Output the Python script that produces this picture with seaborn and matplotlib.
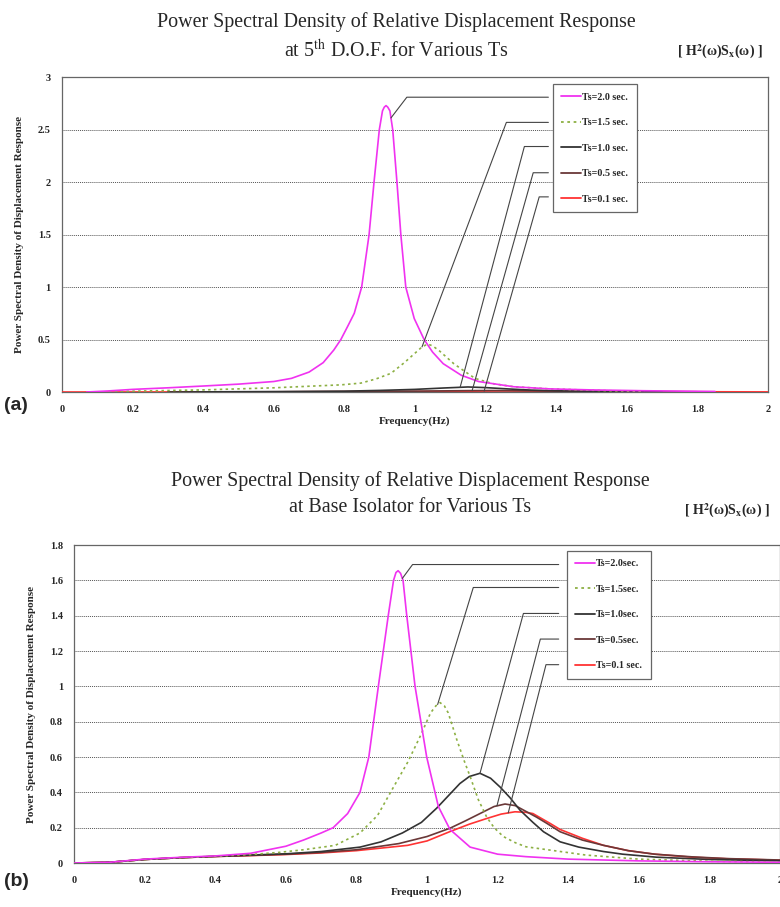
import numpy as np
import pandas as pd
import seaborn as sns
from matplotlib import pyplot as plt
from matplotlib.lines import Line2D

# ---- data ----
labels_a = ["Ts=2.0 sec.", "Ts=1.5 sec.", "Ts=1.0 sec.", "Ts=0.5 sec.", "Ts=0.1 sec."]
labels_b = ["Ts=2.0sec.", "Ts=1.5sec.", "Ts=1.0sec.", "Ts=0.5sec.", "Ts=0.1 sec."]
colors = ["#f032f0", "#8db044", "#333333", "#6a3838", "#ff3333"]

# (a) 5th D.O.F.
a_f20 = [0.07, 0.13, 0.2, 0.3, 0.4, 0.5, 0.6, 0.65, 0.7, 0.74, 0.77, 0.79, 0.81, 0.828, 0.849,
         0.870, 0.884, 0.899, 0.908, 0.913, 0.918, 0.923, 0.929, 0.937, 0.949, 0.960, 0.974,
         0.998, 1.026, 1.05, 1.08, 1.131, 1.18, 1.28, 1.38, 1.5, 1.65, 1.85]
a_v20 = [0.0, 0.01, 0.025, 0.04, 0.057, 0.075, 0.1, 0.13, 0.19, 0.28, 0.4, 0.5, 0.63, 0.75, 1.0,
         1.5, 2.0, 2.5, 2.68, 2.715, 2.73, 2.715, 2.68, 2.5, 2.0, 1.5, 1.0,
         0.7, 0.5, 0.38, 0.27, 0.16, 0.1, 0.05, 0.03, 0.02, 0.012, 0.005]
a_f15 = [0.1, 0.2, 0.3, 0.4, 0.5, 0.6, 0.7, 0.79, 0.847, 0.89, 0.932, 0.97, 1.0, 1.02, 1.036,
         1.05, 1.07, 1.09, 1.11, 1.131, 1.17, 1.22, 1.28, 1.38, 1.47, 1.55, 1.65]
a_v15 = [0.0, 0.008, 0.014, 0.02, 0.03, 0.04, 0.055, 0.068, 0.085, 0.125, 0.178, 0.28, 0.37,
         0.43, 0.457, 0.44, 0.39, 0.33, 0.27, 0.22, 0.13, 0.08, 0.05, 0.03, 0.02, 0.012, 0.006]
a_f10 = [0.3, 0.6, 0.8, 0.9, 1.0, 1.08, 1.15, 1.2, 1.26, 1.33, 1.4, 1.5, 1.6, 1.7]
a_v10 = [0.0, 0.004, 0.008, 0.015, 0.025, 0.038, 0.048, 0.042, 0.03, 0.018, 0.012, 0.007, 0.004, 0.002]
a_f05 = [0.5, 0.8, 1.0, 1.15, 1.22, 1.3, 1.45, 1.6, 1.8]
a_v05 = [0.0, 0.004, 0.008, 0.013, 0.014, 0.012, 0.007, 0.004, 0.002]
a_f01 = [0.0, 0.5, 1.0, 1.2, 1.26, 1.4, 1.6, 2.0]
a_v01 = [0.0, 0.001, 0.005, 0.009, 0.01, 0.007, 0.004, 0.001]

# (b) base isolator
b_f20 = [0.0, 0.1, 0.15, 0.2, 0.3, 0.4, 0.5, 0.6, 0.65, 0.7, 0.734, 0.775, 0.81, 0.835, 0.862,
         0.89, 0.905, 0.912, 0.918, 0.925, 0.932, 0.942, 0.966, 0.999, 1.032, 1.065, 1.122,
         1.2, 1.28, 1.4, 1.6, 1.8, 2.0]
b_v20 = [0.0, 0.004, 0.013, 0.022, 0.032, 0.04, 0.055, 0.095, 0.13, 0.17, 0.2, 0.28, 0.4, 0.6,
         1.0, 1.4, 1.6, 1.645, 1.655, 1.64, 1.6, 1.41, 1.0, 0.6, 0.32, 0.19, 0.09,
         0.05, 0.036, 0.022, 0.012, 0.007, 0.004]
b_f15 = [0.0, 0.1, 0.2, 0.3, 0.4, 0.5, 0.58, 0.65, 0.74, 0.81, 0.86, 0.905, 0.945, 0.98, 1.01,
         1.025, 1.037, 1.049, 1.06, 1.084, 1.105, 1.122, 1.145, 1.169, 1.19, 1.216, 1.25, 1.28,
         1.36, 1.45, 1.6, 1.8, 2.0]
b_v15 = [0.0, 0.003, 0.02, 0.03, 0.038, 0.048, 0.06, 0.075, 0.1, 0.17, 0.27, 0.43, 0.57, 0.715,
         0.85, 0.89, 0.908, 0.89, 0.85, 0.70, 0.58, 0.49, 0.36, 0.26, 0.2, 0.15, 0.115, 0.092,
         0.07, 0.045, 0.022, 0.01, 0.006]
b_f10 = [0.0, 0.1, 0.2, 0.3, 0.4, 0.5, 0.6, 0.7, 0.81, 0.87, 0.93, 0.984, 1.027, 1.06, 1.093,
         1.12, 1.15, 1.18, 1.207, 1.235, 1.263, 1.3, 1.33, 1.377, 1.43, 1.5, 1.554, 1.65, 1.8, 2.0]
b_v10 = [0.0, 0.004, 0.02, 0.03, 0.038, 0.045, 0.052, 0.065, 0.09, 0.12, 0.17, 0.23, 0.31,
         0.38, 0.45, 0.49, 0.508, 0.48, 0.43, 0.37, 0.30, 0.23, 0.177, 0.12, 0.09, 0.065, 0.05,
         0.033, 0.02, 0.012]
b_f05 = [0.0, 0.1, 0.2, 0.3, 0.4, 0.5, 0.6, 0.7, 0.8, 0.92, 1.0, 1.065, 1.11, 1.15, 1.19,
         1.221, 1.25, 1.273, 1.31, 1.339, 1.377, 1.44, 1.5, 1.57, 1.645, 1.75, 1.85, 2.0]
b_v05 = [0.0, 0.004, 0.02, 0.03, 0.037, 0.043, 0.05, 0.06, 0.075, 0.11, 0.15, 0.197, 0.24,
         0.28, 0.32, 0.334, 0.325, 0.30, 0.26, 0.225, 0.177, 0.13, 0.1, 0.07, 0.05, 0.035,
         0.025, 0.017]
b_f01 = [0.0, 0.1, 0.2, 0.3, 0.4, 0.5, 0.6, 0.7, 0.8, 0.945, 1.0, 1.065, 1.12, 1.169, 1.21,
         1.249, 1.28, 1.30, 1.348, 1.377, 1.44, 1.5, 1.57, 1.645, 1.75, 1.85, 2.0]
b_v01 = [0.0, 0.004, 0.02, 0.03, 0.037, 0.042, 0.048, 0.057, 0.07, 0.1, 0.125, 0.178, 0.22,
         0.252, 0.277, 0.29, 0.287, 0.28, 0.225, 0.19, 0.14, 0.1, 0.07, 0.05, 0.033, 0.024, 0.016]

# leader lines: curve anchor freq, elbow (f, v)
a_lead_f = [0.932, 1.02, 1.128, 1.162, 1.196]
a_elbow = [(0.977, 2.81), (1.259, 2.57), (1.31, 2.34), (1.335, 2.09), (1.352, 1.86)]
b_lead_f = [0.93, 1.03, 1.15, 1.198, 1.23]
b_elbow = [(0.959, 1.69), (1.131, 1.56), (1.273, 1.413), (1.321, 1.268), (1.337, 1.123)]

sns.set_style("white")
plt.rcParams['font.family'] = ['Liberation Serif', 'DejaVu Serif']
plt.rcParams['mathtext.fontset'] = 'stix'

fig = plt.figure(figsize=(7.8, 9.07), dpi=100)
ax_a = fig.add_axes([0.0795, 0.5678, 0.905, 0.347])
ax_b = fig.add_axes([0.095, 0.0485, 0.905, 0.3505])

dash_list = ["", (1.5, 2.0), "", "", ""]


def panel(ax, fs, vs, labels, lead_f, elbows, lead_end, ymax, ystep, leg_pos):
    rows = []
    for lab, f, v in zip(labels, fs, vs):
        rows.append(pd.DataFrame({'f': f, 'psd': v, 'Ts': lab}))
    df = pd.concat(rows, ignore_index=True)
    sns.lineplot(data=df, x='f', y='psd', hue='Ts', hue_order=labels[::-1],
                 style='Ts', style_order=labels[::-1],
                 dashes=dict(zip(labels, dash_list)),
                 palette=dict(zip(labels, colors)), estimator=None, sort=False,
                 legend=False, lw=1.2, ax=ax, zorder=3)

    for f, v, lf, (ex, ey) in zip(fs, vs, lead_f, elbows):
        lv = np.interp(lf, f, v)
        ax.plot([lf, ex, lead_end], [lv, ey, ey], color='#444444', lw=0.8, zorder=4)

    handles = [Line2D([], [], color=c, lw=1.3, linestyle=(0, d) if d else '-')
               for c, d in zip(colors, dash_list)]
    leg = ax.legend(handles, labels, loc='upper left', bbox_to_anchor=leg_pos,
                    prop={'weight': 'bold', 'size': 7.2}, frameon=True,
                    fancybox=False, edgecolor='#666666', framealpha=1,
                    handlelength=2.0, handletextpad=0.1, labelspacing=1.65,
                    borderpad=0.85, borderaxespad=0)
    leg.get_frame().set_linewidth(0.9)
    leg.set_zorder(5)

    ax.set_xlim(0, 2)
    ax.set_ylim(0, ymax)
    ax.set_xticks(np.arange(0, 2.01, 0.2))
    ax.set_xticklabels([f"{t:g}" for t in np.arange(0, 2.01, 0.2).round(1)])
    yt = np.arange(0, ymax + 1e-6, ystep).round(1)
    ax.set_yticks(yt)
    ax.set_yticklabels([f"{t:g}" for t in yt])
    for lab in ax.get_xticklabels() + ax.get_yticklabels():
        lab.set_fontweight('bold')
        lab.set_fontsize(7.5)
    ax.tick_params(axis='x', direction='in', length=3, color='#666666', pad=9)
    ax.tick_params(axis='y', length=0, pad=8)
    ax.yaxis.grid(True, linestyle=(0, (1, 1)), color='#555555', lw=0.7)
    ax.xaxis.grid(False)
    for s in ax.spines.values():
        s.set_color('#666666')
        s.set_linewidth(0.9)
    ax.set_xlabel("Frequency(Hz)", fontsize=8, fontweight='bold', labelpad=2)
    ax.set_ylabel("Power Spectral Density of Displacement Response", fontsize=8,
                  fontweight='bold', labelpad=10)


panel(ax_a, [a_f20, a_f15, a_f10, a_f05, a_f01], [a_v20, a_v15, a_v10, a_v05, a_v01],
      labels_a, a_lead_f, a_elbow, 1.378, 3, 0.5, (0.695, 0.978))
panel(ax_b, [b_f20, b_f15, b_f10, b_f05, b_f01], [b_v20, b_v15, b_v10, b_v05, b_v01],
      labels_b, b_lead_f, b_elbow, 1.373, 1.8, 0.2, (0.698, 0.982))

fig.text(396 / 780, 1 - 22 / 907, "Power Spectral Density of Relative Displacement Response",
         ha='center', va='center', fontsize=14.4)
fig.text(396 / 780, 1 - 51 / 907, "at 5$^{\\mathrm{th}}$ D.O.F. for Various Ts",
         ha='center', va='center', fontsize=14.4)
fig.text(720 / 780, 1 - 52 / 907, "[ H$^{\\mathbf{2}}$(ω)S$_{\\mathbf{x}}$(ω) ]",
         ha='center', va='center', fontsize=10, fontweight='bold')
fig.text(410 / 780, 1 - 481 / 907, "Power Spectral Density of Relative Displacement Response",
         ha='center', va='center', fontsize=14.4)
fig.text(410 / 780, 1 - 508 / 907, "at Base Isolator for Various Ts",
         ha='center', va='center', fontsize=14.4)
fig.text(727 / 780, 1 - 511 / 907, "[ H$^{\\mathbf{2}}$(ω)S$_{\\mathbf{x}}$(ω) ]",
         ha='center', va='center', fontsize=10, fontweight='bold')
fig.text(4 / 780, 1 - 405 / 907, "(a)", ha='left', va='center', fontsize=14,
         fontweight='bold', family='Liberation Sans')
fig.text(4 / 780, 1 - 881 / 907, "(b)", ha='left', va='center', fontsize=14,
         fontweight='bold', family='Liberation Sans')

fig.savefig("out.png", dpi=100)
